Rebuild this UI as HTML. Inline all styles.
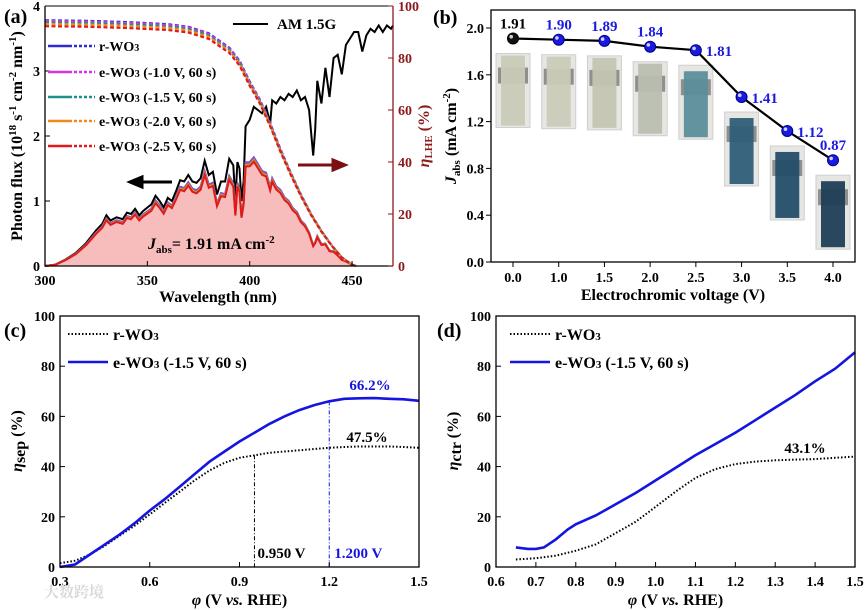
<!DOCTYPE html>
<html><head><meta charset="utf-8">
<style>
html,body{margin:0;padding:0;background:#fff;}
svg{display:block;font-family:"Liberation Serif","Noto Serif CJK SC",serif;font-weight:bold;}
</style></head>
<body>
<svg id="fig" width="867" height="610" viewBox="0 0 867 610" xmlns="http://www.w3.org/2000/svg"></svg>
<script>
// ---------- Panel (a) data ----------
const amWl = [300,305,310,315,320,325,328,330,332,335,338,340,342,344,346,348,350,352,354,356,358,360,362,364,366,368,370,372,374,376,378,380,382,384,386,388,390,392,393,394,395,396,397,398,400,402,404,406,408,410,411,413,415,417,419,421,423,425,427,429,431,432,433,435,437,439,441,443,445,447,449,451,453,455,457,459,461,463,465,467,469,470];
const amFlux = [0,0.02,0.1,0.2,0.35,0.55,0.65,0.78,0.7,0.75,0.72,0.82,0.8,0.88,0.78,0.85,0.9,0.95,1.08,1.0,0.9,1.05,1.0,1.15,1.32,1.3,1.4,1.3,1.28,1.35,1.62,1.4,1.45,1.1,1.3,1.3,1.65,1.55,1.0,1.6,1.5,1.0,1.3,2.15,2.25,2.45,2.4,2.35,2.45,2.2,2.55,2.5,2.6,2.55,2.65,2.6,2.7,2.55,2.6,2.4,1.7,2.1,2.85,2.5,3.05,2.6,3.2,3.25,2.95,3.4,3.5,3.6,3.6,3.3,3.55,3.65,3.6,3.7,3.6,3.7,3.65,3.7];
const etaWl = [300,320,340,360,370,380,390,395,400,405,410,415,420,425,430,435,440,445,450,452];
const etaBase = [94.5,94.3,93.8,93,92,89.5,84,79,71,64,55,45,36,27.5,20,13.5,8,3.3,0.5,0];
const sampleNames = ["r-WO3","e-WO3 (-1.0 V, 60 s)","e-WO3 (-1.5 V, 60 s)","e-WO3 (-2.0 V, 60 s)","e-WO3 (-2.5 V, 60 s)"];
const sampleScale = [1.0,0.995,0.985,0.975,0.96];
// ---------- Panel (b) data ----------
const ecVoltLabels = ["0.0","1.0","1.5","2.0","2.5","3.0","3.5","4.0"];
const jabsValues = [1.91,1.90,1.89,1.84,1.81,1.41,1.12,0.87];
const jabsLabels = ["1.91","1.90","1.89","1.84","1.81","1.41","1.12","0.87"];
const bYTicks = [0.0,0.4,0.8,1.2,1.6,2.0];
const filmColors = ["#c9cab6","#cbcbb8","#c4c6b2","#b9bfb0","#5d8e9c","#2f5f78","#244e69","#1f3e57"];
// ---------- Panel (c) data ----------
const cPhi = [0.3,0.35,0.4,0.45,0.5,0.55,0.6,0.65,0.7,0.75,0.8,0.85,0.9,0.95,1.0,1.05,1.1,1.15,1.2,1.25,1.3,1.35,1.4,1.45,1.5];
const cSepE = [0,1,5,9,13,17.5,22.5,27,32,37,42,46,50,53.5,57,60,62.5,64.5,66,67,67.2,67.3,67,66.8,66.2];
const cSepR = [1.5,2.5,5,8.5,12.5,16.5,21,25.5,30,34.5,38.5,41.5,43.5,44.5,45.5,46,46.5,47,47.5,47.8,48,48,48,47.8,47.5];
const cXTicks = [0.3,0.6,0.9,1.2,1.5];
const pctTicks = [0,20,40,60,80,100];
// ---------- Panel (d) data ----------
const dPhiE = [0.65,0.68,0.7,0.72,0.75,0.78,0.8,0.85,0.9,0.95,1.0,1.05,1.1,1.15,1.2,1.25,1.3,1.35,1.4,1.45,1.5];
const dCtrE = [7.8,7.2,7.2,7.8,11,15,17,20.5,25,29.5,34.5,39.5,44.5,49,53.5,58.5,63.5,68.5,74,79,85.5];
const dPhiR = [0.65,0.7,0.75,0.8,0.85,0.9,0.95,1.0,1.05,1.1,1.15,1.2,1.25,1.3,1.35,1.4,1.45,1.5];
const dCtrR = [3,3.5,4.5,6.5,9,13.5,18,24,30,35.5,39,41,42,42.5,42.8,43,43.5,44];
const dXTicks = [0.6,0.7,0.8,0.9,1.0,1.1,1.2,1.3,1.4,1.5];

const NS="http://www.w3.org/2000/svg";
const svg=document.getElementById('fig');
function mk(tag,attrs,parent){const e=document.createElementNS(NS,tag);for(const k in attrs)e.setAttribute(k,attrs[k]);(parent||svg).appendChild(e);return e;}
function txt(x,y,s,size,anchor,fill,parent){const e=mk('text',{x:x,y:y,'font-size':size,'text-anchor':anchor||'middle',fill:fill||'#000'},parent);e.textContent=s;return e;}
function lin(d0,d1,r0,r1){return v=>r0+(v-d0)*(r1-r0)/(d1-d0);}
function path(xs,ys,fx,fy){return xs.map((v,i)=>(i?'L':'M')+fx(v).toFixed(1)+','+fy(ys[i]).toFixed(1)).join('');}
function interp(xs,ys,x){if(x<=xs[0])return ys[0];for(let i=1;i<xs.length;i++){if(x<=xs[i]){const t=(x-xs[i-1])/(xs[i]-xs[i-1]);return ys[i-1]+t*(ys[i]-ys[i-1]);}}return ys[ys.length-1];}

// ===== Panel (a) =====
const ga=mk('g',{});


const ax=lin(300,470,45,393), ay=lin(0,4,266,6), ayR=lin(0,100,266,6);
const sampleColors=["#2b2bd0","#d535e0","#1e8f8a","#f08a1e","#e01a1a"];
const absWl=amWl.filter(w=>w<=452);
const absSeries=sampleScale.map(s=>absWl.map((w)=>interp(amWl,amFlux,w)*interp(etaWl,etaBase,w)*s/100));
const fillD=path(absWl,absSeries[4],ax,ay)+'L'+ax(452)+','+ay(0)+'L'+ax(300)+','+ay(0)+'Z';
const fillA=mk('path',{d:fillD,fill:'#f7bcbc',stroke:'none'},ga);


const amLine=mk('path',{d:path(amWl,amFlux,ax,ay),fill:'none',stroke:'#000','stroke-width':2},ga);


absSeries.forEach((ser,i)=>{
  const p=mk('path',{d:path(absWl,ser,ax,ay),fill:'none',stroke:sampleColors[i],'stroke-width':2},ga);
  
  
});
sampleScale.forEach((s,i)=>{
  const ev=etaBase.map(v=>v*(1-(1-s)*0.6));
  const p=mk('path',{d:path(etaWl,ev,ax,ayR),fill:'none',stroke:sampleColors[i],'stroke-width':2.2,'stroke-dasharray':'4 2.5'},ga);
  
  
});
const boxA=mk('path',{d:`M45,6V266H393`,fill:'none',stroke:'#000','stroke-width':1.3},ga);


const rAx=mk('line',{x1:393,y1:6,x2:393,y2:266,stroke:'#8b1a1a','stroke-width':1.3},ga);


const topA=mk('line',{x1:45,y1:6,x2:393,y2:6,stroke:'#000','stroke-width':1},ga);


[0,1,2,3,4].forEach(v=>{mk('line',{x1:45,y1:ay(v),x2:50,y2:ay(v),stroke:'#000'},ga);const t=txt(40,ay(v)+5,String(v),14,'end','#000',ga);});
[0,20,40,60,80,100].forEach(v=>{mk('line',{x1:388,y1:ayR(v),x2:393,y2:ayR(v),stroke:'#8b1a1a'},ga);const t=txt(398,ayR(v)+5,String(v),14,'start','#8b1a1a',ga);});
[300,350,400,450].forEach(v=>{mk('line',{x1:ax(v),y1:266,x2:ax(v),y2:261,stroke:'#000'},ga);const t=txt(ax(v),285,String(v),14,'middle','#000',ga);});
let t;
t=txt(218,302,'Wavelength (nm)',16,'middle','#000',ga);
t=mk('text',{x:0,y:0,'font-size':16,'text-anchor':'middle',transform:'translate(22,136) rotate(-90)'},ga);
t.innerHTML='Photon flux (10<tspan font-size="11" dy="-6">18</tspan><tspan dy="6"> s</tspan><tspan font-size="11" dy="-6">-1</tspan><tspan dy="6"> cm</tspan><tspan font-size="11" dy="-6">-2</tspan><tspan dy="6"> nm</tspan><tspan font-size="11" dy="-6">-1</tspan><tspan dy="6">)</tspan>';

t=mk('text',{x:0,y:0,'font-size':16,'text-anchor':'middle',fill:'#8b1a1a',transform:'translate(429,136) rotate(-90)'},ga);
t.innerHTML='<tspan font-style="italic">η</tspan><tspan font-size="11" dy="3">LHE</tspan><tspan dy="-3"> (%)</tspan>';

t=txt(4,23,'(a)',20,'start','#000',ga);
const legY=[46,72,97,121,146];
sampleNames.forEach((n,i)=>{
  mk('line',{x1:48,y1:legY[i],x2:72,y2:legY[i],stroke:sampleColors[i],'stroke-width':2.5},ga);
  mk('line',{x1:74,y1:legY[i],x2:95,y2:legY[i],stroke:sampleColors[i],'stroke-width':2.5,'stroke-dasharray':'3 2'},ga);
  const lt=mk('text',{x:99,y:legY[i]+5,'font-size':14},ga);
  lt.innerHTML=n.replace('WO3','WO<tspan font-size="10">3</tspan>');
  
  
});
mk('line',{x1:233,y1:24,x2:268,y2:24,stroke:'#000','stroke-width':2},ga);
t=txt(277,29,'AM 1.5G',15,'start','#000',ga);
t=mk('path',{d:'M172,182H142M142,182l0,-5l-12,5l12,5z',stroke:'#000','stroke-width':3,fill:'#000'},ga);
t=mk('path',{d:'M298,165H333M333,165l0,-5l12,5l-12,5z',stroke:'#7a1010','stroke-width':3,fill:'#7a1010'},ga);
t=mk('text',{x:148,y:249,'font-size':16},ga);
t.innerHTML='<tspan font-style="italic">J</tspan><tspan font-size="11" dy="4">abs</tspan><tspan dy="-4">= 1.91 mA cm</tspan><tspan font-size="11" dy="-6">-2</tspan>';


// ===== Panel (b) =====
const gb=mk('g',{});


const bx=i=>513+i*(833-513)/7, by=lin(0,2,262,28);
jabsValues.forEach((v,i)=>{
  const top=by(v)+15, h=74, x0=bx(i)-17;
  const g=mk('g',{},gb);
  
  
  mk('rect',{x:x0,y:top,width:34,height:h,fill:'#e6e6e2',stroke:'#cfcfcf'},g);
  mk('rect',{x:x0+2,y:top+14,width:30,height:16,fill:'#555',opacity:0.6},g);
  mk('rect',{x:x0+5,y:top+(i>=4?6:2),width:24,height:h-(i>=4?8:4),fill:filmColors[i],opacity:0.95},g);
});
const bLine=mk('path',{d:path(jabsValues.map((v,i)=>i),jabsValues,bx,by),fill:'none',stroke:'#000','stroke-width':2.2},gb);


jabsValues.forEach((v,i)=>{
  const c=mk('circle',{cx:bx(i),cy:by(v),r:5.5,fill:i?'#1a1ae0':'#111',stroke:i?'#000080':'#000'},gb);
  
  
  mk('circle',{cx:bx(i)-1.8,cy:by(v)-1.8,r:1.8,fill:'#fff',opacity:0.8},gb);
  const right=i>=4&&i<7;
  const lb=txt(right?bx(i)+10:bx(i),right?by(v)+6:by(v)-10,jabsLabels[i],15,right?'start':'middle',i?'#1a1ae0':'#000',gb);
  
  
});
t=mk('rect',{x:491,y:10,width:364,height:252,fill:'none',stroke:'#000','stroke-width':1.3},gb);
bYTicks.forEach(v=>{mk('line',{x1:491,y1:by(v),x2:486,y2:by(v),stroke:'#000'},gb);const tt=txt(484,by(v)+5,v.toFixed(1),14,'end','#000',gb);});
ecVoltLabels.forEach((s,i)=>{mk('line',{x1:bx(i),y1:262,x2:bx(i),y2:267,stroke:'#000'},gb);const tt=txt(bx(i),282,s,14,'middle','#000',gb);});
t=txt(673,300,'Electrochromic voltage (V)',16,'middle','#000',gb);
t=mk('text',{x:0,y:0,'font-size':16,'text-anchor':'middle',transform:'translate(456,136) rotate(-90)'},gb);
t.innerHTML='<tspan font-style="italic">J</tspan><tspan font-size="11" dy="4">abs</tspan><tspan dy="-4"> (mA cm</tspan><tspan font-size="11" dy="-6">-2</tspan><tspan dy="6">)</tspan>';

t=txt(433,24,'(b)',20,'start','#000',gb);

function pctAxes(g,x0,x1,fx,fy,ticks,fmt,tag){
  const r=mk('rect',{x:x0,y:316,width:x1-x0,height:251,fill:'none',stroke:'#000','stroke-width':1.3},g);
  
  
  pctTicks.forEach(v=>{mk('line',{x1:x0,y1:fy(v),x2:x0+5,y2:fy(v),stroke:'#000'},g);const tt=txt(x0-5,fy(v)+5,String(v),14,'end','#000',g);});
  ticks.forEach(v=>{mk('line',{x1:fx(v),y1:567,x2:fx(v),y2:562,stroke:'#000'},g);const tt=txt(fx(v),586,v.toFixed(fmt),14,'middle','#000',g);});
  const xt=mk('text',{x:(x0+x1)/2,y:605,'font-size':16,'text-anchor':'middle'},g);
  xt.innerHTML='<tspan font-style="italic">φ</tspan> (V <tspan font-style="italic">vs.</tspan> RHE)';
  
  
}
function legend(g,x,tag){
  mk('line',{x1:x,y1:334,x2:x+40,y2:334,stroke:'#000','stroke-width':2,'stroke-dasharray':'1.5 2'},g);
  let l=mk('text',{x:x+45,y:340,'font-size':16},g);l.innerHTML='r-WO<tspan font-size="11">3</tspan>';
  
  mk('line',{x1:x,y1:362,x2:x+40,y2:362,stroke:'#1515e0','stroke-width':2.5},g);
  l=mk('text',{x:x+45,y:368,'font-size':16},g);l.innerHTML='e-WO<tspan font-size="11">3</tspan> (-1.5 V, 60 s)';
  
}

// ===== Panel (c) =====
const gc=mk('g',{});


const cx=lin(0.3,1.5,60,419), cy=lin(0,100,567,316);
t=mk('path',{d:path(cPhi,cSepR,cx,cy),fill:'none',stroke:'#000','stroke-width':2,'stroke-dasharray':'1.5 2'},gc);
t=mk('path',{d:path(cPhi,cSepE,cx,cy),fill:'none',stroke:'#1515e0','stroke-width':2.6},gc);
t=mk('line',{x1:cx(0.95),y1:cy(interp(cPhi,cSepR,0.95)),x2:cx(0.95),y2:567,stroke:'#000','stroke-dasharray':'4 2 1 2'},gc);
t=mk('line',{x1:cx(1.2),y1:cy(interp(cPhi,cSepE,1.2)),x2:cx(1.2),y2:567,stroke:'#1515e0','stroke-dasharray':'4 2 1 2'},gc);
pctAxes(gc,60,419,cx,cy,cXTicks,1,'c');
legend(gc,68,'c');
t=txt(cx(0.95)+3,558,'0.950 V',15,'start','#000',gc);
t=txt(cx(1.2)+5,558,'1.200 V',15,'start','#1515e0',gc);
t=txt(370,390,'66.2%',15,'middle','#1515e0',gc);
t=txt(367,442,'47.5%',15,'middle','#000',gc);
t=mk('text',{x:0,y:0,'font-size':16,'text-anchor':'middle',transform:'translate(22,441) rotate(-90)'},gc);
t.innerHTML='<tspan font-style="italic">η</tspan><tspan dy="3">sep</tspan><tspan dy="-3"> (%)</tspan>';

t=txt(4,337,'(c)',20,'start','#000',gc);
t=txt(44,597,'大数跨境',15,'start','#d8d8d8',gc);

// ===== Panel (d) =====
const gd=mk('g',{});


const dx=lin(0.6,1.5,496,855), dy=cy;
t=mk('path',{d:path(dPhiR,dCtrR,dx,dy),fill:'none',stroke:'#000','stroke-width':2,'stroke-dasharray':'1.5 2'},gd);
t=mk('path',{d:path(dPhiE,dCtrE,dx,dy),fill:'none',stroke:'#1515e0','stroke-width':2.6},gd);
pctAxes(gd,496,855,dx,dy,dXTicks,1,'d');
legend(gd,510,'d');
t=txt(805,453,'43.1%',15,'middle','#000',gd);
t=mk('text',{x:0,y:0,'font-size':16,'text-anchor':'middle',transform:'translate(458,441) rotate(-90)'},gd);
t.innerHTML='<tspan font-style="italic">η</tspan><tspan dy="3">ctr</tspan><tspan dy="-3"> (%)</tspan>';

t=txt(437,337,'(d)',20,'start','#000',gd);
</script>
</body></html>
